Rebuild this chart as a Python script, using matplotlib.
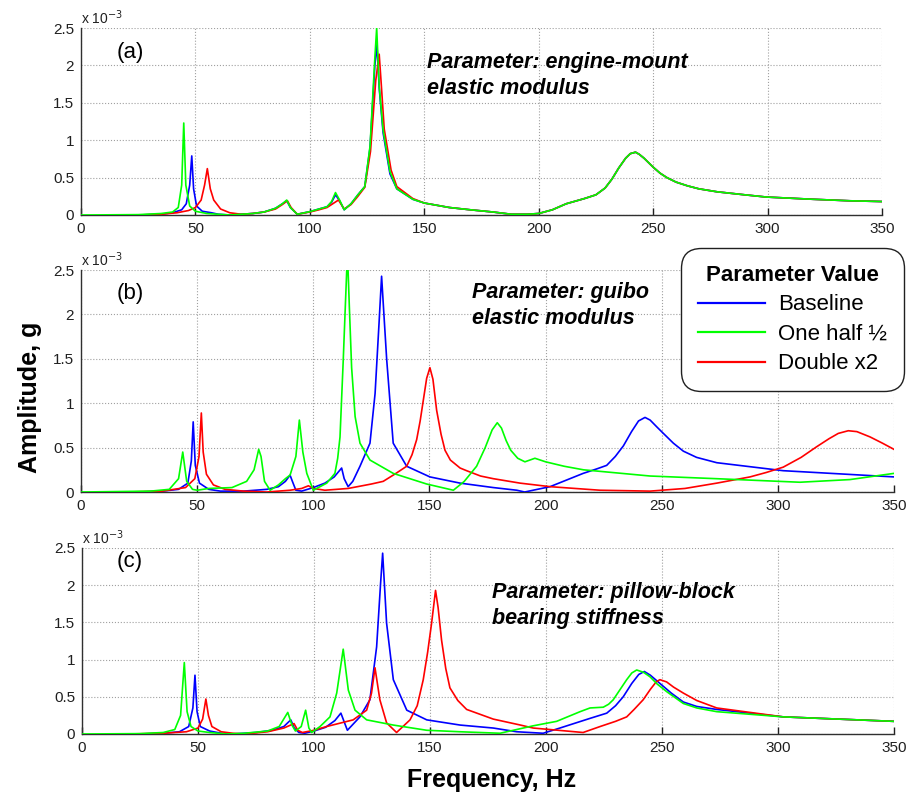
import numpy as np
import matplotlib
matplotlib.use("Agg")
import matplotlib.pyplot as plt
from matplotlib.lines import Line2D

plt.rcParams['font.family'] = ['Liberation Sans', 'DejaVu Sans']

# amplitudes are in units of 1e-3 g
# ---- (a) engine-mount elastic modulus ----
a_base_f = [25, 35, 40, 44, 46, 47.5, 48.4, 49.2, 50.5, 53, 57, 60, 65, 75, 80, 85, 88, 89.9, 91.5, 94.5,
            100, 104, 107.5, 109.5, 111.2, 113, 115, 118, 121, 124, 126.3, 128.4, 129.3, 130.3, 132, 135, 138,
            145, 150, 161, 170, 180, 188, 195, 200, 206, 212, 220, 225, 229, 232, 235, 238, 240, 242.3, 244, 246,
            248, 250, 253, 256, 260, 265, 270, 278, 290, 299.5, 320, 336, 350]
a_base_amp = [0, 0.01, 0.03, 0.07, 0.15, 0.4, 0.79, 0.35, 0.12, 0.05, 0.03, 0.01, 0, 0.02, 0.04, 0.09, 0.15, 0.19, 0.1, 0.01,
              0.045, 0.08, 0.11, 0.17, 0.27, 0.19, 0.07, 0.15, 0.27, 0.38, 0.9, 2.0, 2.28, 1.7, 1.1, 0.55, 0.35,
              0.21, 0.16, 0.1, 0.07, 0.04, 0.01, 0.01, 0.02, 0.07, 0.15, 0.22, 0.27, 0.36, 0.48, 0.63, 0.76, 0.82, 0.84, 0.81, 0.76,
              0.7, 0.64, 0.56, 0.5, 0.44, 0.39, 0.35, 0.31, 0.27, 0.24, 0.21, 0.19, 0.18]
a_half_f = [0, 25, 35, 40, 42.5, 44, 44.9, 45.8, 47.5, 50, 55, 60, 65, 75, 80, 85, 88, 89.9, 91.5, 94.5,
            100, 104, 107.5, 109.5, 111.2, 113, 115, 118, 121, 124, 126.3, 128.4, 129.2, 130.3, 132, 135, 138,
            145, 150, 161, 170, 180, 188, 195, 200, 206, 212, 220, 225, 229, 232, 235, 238, 240, 242.3, 244, 246,
            248, 250, 253, 256, 260, 265, 270, 278, 290, 299.5, 320, 336, 350]
a_half_amp = [0, 0.005, 0.02, 0.04, 0.1, 0.4, 1.23, 0.4, 0.12, 0.05, 0.02, 0.01, 0, 0.02, 0.04, 0.09, 0.15, 0.2, 0.1, 0.01,
              0.045, 0.08, 0.11, 0.18, 0.3, 0.2, 0.07, 0.15, 0.27, 0.38, 0.92, 2.1, 2.5, 1.72, 1.14, 0.58, 0.35,
              0.21, 0.16, 0.1, 0.07, 0.04, 0.01, 0.01, 0.02, 0.07, 0.15, 0.22, 0.27, 0.36, 0.48, 0.63, 0.76, 0.82, 0.84, 0.81, 0.76,
              0.7, 0.64, 0.56, 0.5, 0.44, 0.39, 0.35, 0.31, 0.27, 0.24, 0.21, 0.19, 0.18]
a_double_f = [25, 35, 42, 47, 50, 52.5, 54, 55.2, 56.5, 58, 61, 65, 70, 75, 80, 85, 88, 90.2, 91.8, 94.5,
              100, 104, 107.5, 110, 112.5, 115, 118, 121, 124, 126.5, 128.8, 130.3, 131.2, 132.5, 135.5, 138,
              145, 150, 161, 170, 180, 188, 195, 200, 206, 212, 220, 225, 229, 232, 235, 238, 240, 242.3, 244, 246,
              248, 250, 253, 256, 260, 265, 270, 278, 290, 299.5, 320, 336, 350]
a_double_amp = [0, 0.01, 0.03, 0.06, 0.1, 0.2, 0.4, 0.62, 0.35, 0.2, 0.08, 0.03, 0.01, 0.02, 0.04, 0.08, 0.14, 0.19, 0.1, 0.01,
                0.04, 0.07, 0.1, 0.15, 0.2, 0.08, 0.14, 0.25, 0.37, 0.85, 1.8, 2.15, 1.75, 1.15, 0.6, 0.38,
                0.22, 0.16, 0.1, 0.07, 0.04, 0.01, 0.01, 0.02, 0.07, 0.15, 0.22, 0.27, 0.36, 0.48, 0.63, 0.76, 0.82, 0.84, 0.81, 0.76,
                0.7, 0.64, 0.56, 0.5, 0.44, 0.39, 0.35, 0.31, 0.27, 0.24, 0.21, 0.19, 0.18]

# ---- (b) guibo elastic modulus ----
b_base_f = [25, 35, 42, 46, 47.5, 48.3, 49.2, 51, 55, 60, 70, 80, 85, 88, 90, 91, 92.5, 95, 100, 105, 109, 112.2,
            113.3, 115, 117, 120.1, 124.4, 126.6, 128.3, 129.4, 130.4, 131.6, 134.4, 140.2, 150.2, 163.2, 177.5,
            187.6, 191, 201.9, 216.2, 222, 226.3, 230, 233.5, 237, 240, 242.8, 245, 248, 250.7, 255, 259.3, 265,
            273.7, 302.3, 350]
b_base_amp = [0, 0.01, 0.03, 0.1, 0.35, 0.79, 0.3, 0.1, 0.03, 0.01, 0.01, 0.03, 0.06, 0.12, 0.19, 0.12, 0.02, 0.01, 0.05, 0.1, 0.17, 0.27,
              0.15, 0.06, 0.12, 0.29, 0.55, 1.11, 1.9, 2.43, 2.0, 1.49, 0.55, 0.29, 0.17, 0.1, 0.05,
              0.02, 0.0, 0.06, 0.21, 0.26, 0.3, 0.4, 0.52, 0.68, 0.8, 0.84, 0.81, 0.73, 0.66, 0.55, 0.46, 0.39,
              0.33, 0.24, 0.17]
b_half_f = [0, 30, 38, 42, 43.8, 45.5, 48, 50, 55, 65, 71.3, 74.5, 76.5, 77.5, 79, 81.4, 85, 88, 90, 92.5, 94, 95.5,
            97.2, 100, 105.8, 109.3, 110.5, 111.5, 112.9, 113.8, 114.7, 115.5, 116.5, 118, 120.1, 124.4, 134.4,
            148.8, 160.3, 165, 170.3, 174, 177, 179.2, 181, 183, 185, 188, 191.1, 195.4, 200, 208, 216.3, 245,
            273.6, 309.5, 331, 350]
b_half_amp = [0, 0.01, 0.03, 0.15, 0.45, 0.12, 0.03, 0.02, 0.04, 0.05, 0.12, 0.25, 0.48, 0.4, 0.12, 0.02, 0.08, 0.15, 0.19, 0.4, 0.81, 0.45,
              0.21, 0.02, 0.1, 0.21, 0.38, 0.62, 1.49, 2.1, 2.7, 2.1, 1.4, 0.85, 0.55, 0.36, 0.21,
              0.09, 0.02, 0.12, 0.29, 0.5, 0.7, 0.78, 0.72, 0.58, 0.47, 0.38, 0.34, 0.38, 0.34, 0.29, 0.25, 0.18,
              0.15, 0.11, 0.14, 0.21]
b_double_f = [20, 35, 45, 49, 50.8, 51.8, 52.6, 54, 57, 62, 70, 80, 90, 95, 97.9, 100, 105, 115, 125, 130.1, 135,
              140.2, 142.5, 144.5, 146, 147.4, 148.8, 150.2, 151.5, 153.1, 155, 156.7, 159, 163.2, 166, 172, 177.5,
              189, 202, 223.4, 245, 260, 273.7, 288, 295, 302.3, 310, 316.7, 322, 326, 330.3, 334, 339.7, 345, 350]
b_double_amp = [0, 0.01, 0.05, 0.15, 0.4, 0.89, 0.45, 0.2, 0.08, 0.03, 0.01, 0.0, 0.02, 0.04, 0.07, 0.04, 0.02, 0.04, 0.09, 0.12, 0.2,
                0.29, 0.42, 0.59, 0.8, 1.04, 1.28, 1.4, 1.27, 0.92, 0.65, 0.47, 0.36, 0.27, 0.24, 0.18, 0.15,
                0.1, 0.06, 0.02, 0.01, 0.04, 0.1, 0.17, 0.22, 0.28, 0.39, 0.51, 0.6, 0.66, 0.69, 0.68, 0.62, 0.55, 0.48]

# ---- (c) pillow-block bearing stiffness ----
c_base_f = [25, 35, 42, 46, 47.8, 48.7, 49.6, 51, 55, 60, 65, 75, 82, 87, 90, 91.5, 93.5, 96, 100, 105, 109, 111.6,
            114.4, 119.8, 124.1, 127, 128.7, 129.6, 131.3, 134.2, 140, 148.6, 163, 177.3, 187.4, 198.8, 206, 219,
            226.2, 230, 233.3, 237, 240, 242.4, 245, 249.1, 254, 259.2, 265, 273.6, 302.3, 350]
c_base_amp = [0, 0.01, 0.03, 0.1, 0.35, 0.79, 0.3, 0.1, 0.04, 0.01, 0.0, 0.02, 0.05, 0.1, 0.19, 0.08, 0.02, 0.01, 0.04, 0.09, 0.18, 0.28,
              0.05, 0.23, 0.46, 1.17, 2.02, 2.43, 1.49, 0.73, 0.32, 0.19, 0.12, 0.08, 0.03, 0.01, 0.08, 0.21,
              0.28, 0.38, 0.5, 0.68, 0.8, 0.84, 0.79, 0.68, 0.55, 0.43, 0.37, 0.33, 0.23, 0.17]
c_half_f = [0, 25, 35, 40, 42.5, 44.1, 45.3, 47, 50, 55, 62, 70, 80, 85, 88.7, 90.5, 92, 94.5, 96.4, 97.8, 99,
            102.6, 106.9, 109.8, 112.6, 114.8, 117.7, 122.7, 134.2, 148.6, 163, 180.2, 194.5, 204.6, 214.7, 219,
            224.7, 227, 229, 232, 234.8, 237, 239.1, 242, 244.8, 248, 252, 259.2, 265, 273.6, 302.3, 350]
c_half_amp = [0, 0.005, 0.02, 0.06, 0.25, 0.96, 0.3, 0.1, 0.04, 0.02, 0.0, 0.01, 0.04, 0.1, 0.29, 0.12, 0.04, 0.1, 0.32, 0.08, 0.02,
              0.1, 0.23, 0.55, 1.14, 0.59, 0.32, 0.19, 0.12, 0.05, 0.03, 0.01, 0.11, 0.17, 0.3, 0.35,
              0.36, 0.4, 0.46, 0.6, 0.73, 0.82, 0.86, 0.83, 0.77, 0.67, 0.57, 0.41, 0.35, 0.3, 0.23, 0.17]
c_double_f = [20, 35, 45, 50, 52, 53.4, 54.5, 56, 60, 65, 70, 80, 87, 91.4, 93, 95, 100, 105.4, 116.9, 122.7, 124.8,
              126.3, 128.4, 131.3, 135.6, 141.4, 144.5, 147.1, 149, 150.7, 152.4, 153.5, 155, 156.8, 158.6, 162,
              165.8, 177.3, 189, 194.5, 216, 223.3, 230, 234.8, 238, 241.9, 245, 247.5, 249.1, 252, 255, 259.2,
              265, 273.6, 302.3, 350]
c_double_amp = [0, 0.01, 0.03, 0.08, 0.2, 0.47, 0.25, 0.1, 0.03, 0.01, 0.0, 0.03, 0.08, 0.14, 0.05, 0.02, 0.05, 0.1, 0.19, 0.32, 0.55,
                0.89, 0.46, 0.15, 0.02, 0.19, 0.38, 0.73, 1.1, 1.49, 1.93, 1.7, 1.26, 0.88, 0.62, 0.45,
                0.33, 0.2, 0.12, 0.08, 0.02, 0.1, 0.17, 0.23, 0.33, 0.46, 0.6, 0.7, 0.73, 0.7, 0.63, 0.55,
                0.45, 0.35, 0.23, 0.17]

panels = [
    ("(a)", "Parameter: engine-mount\nelastic modulus",
     (a_base_f, a_base_amp), (a_half_f, a_half_amp), (a_double_f, a_double_amp)),
    ("(b)", "Parameter: guibo\nelastic modulus",
     (b_base_f, b_base_amp), (b_half_f, b_half_amp), (b_double_f, b_double_amp)),
    ("(c)", "Parameter: pillow-block\nbearing stiffness",
     (c_base_f, c_base_amp), (c_half_f, c_half_amp), (c_double_f, c_double_amp)),
]

series_names = ["Baseline", "One half \u00bd", "Double x2"]
series_colors = ["#0000ff", "#00ff00", "#ff0000"]

# axes rectangles [left, bottom, width, height] in figure fraction
rects = [
    [0.0894, 0.7299, 0.8841, 0.2349],
    [0.0894, 0.3819, 0.8974, 0.2789],
    [0.0905, 0.0779, 0.8962, 0.2337],
]
letter_pos = [(0.045, 0.87), (0.044, 0.896), (0.043, 0.925)]
param_pos = [(0.432, 0.87), (0.481, 0.945), (0.505, 0.816)]

fig = plt.figure(figsize=(9.06, 7.96), dpi=100)

for i, (letter, ptext, base, half, double) in enumerate(panels):
    ax = fig.add_axes(rects[i])
    # draw green last so it sits on top where curves overlap
    ax.plot(base[0], base[1], color=series_colors[0], lw=1.2, zorder=3)
    ax.plot(double[0], double[1], color=series_colors[2], lw=1.2, zorder=3)
    ax.plot(half[0], half[1], color=series_colors[1], lw=1.2, zorder=4)

    ax.set_xlim(0, 350)
    ax.set_ylim(0, 2.5)
    ax.set_xticks(np.arange(0, 351, 50))
    ax.set_yticks([0, 0.5, 1, 1.5, 2, 2.5])
    ax.set_yticklabels(["0", "0.5", "1", "1.5", "2", "2.5"])
    ax.grid(True, linestyle=':', color='#a0a0a0', lw=0.8)
    for s in ["top", "right"]:
        ax.spines[s].set_visible(False)
    for s in ["left", "bottom"]:
        ax.spines[s].set_color("#303030")
        ax.spines[s].set_linewidth(1.0)
    ax.tick_params(direction='in', length=5, width=1, labelsize=11, colors='#202020', pad=5)
    ax.tick_params(axis='y', length=0)

    ax.text(0.0, 1.005, "x 10$^{-3}$", transform=ax.transAxes, ha='left', va='bottom', fontsize=10, color='#202020')
    ax.text(letter_pos[i][0], letter_pos[i][1], letter, transform=ax.transAxes,
            ha='left', va='center', fontsize=16)
    ax.text(param_pos[i][0], param_pos[i][1], ptext, transform=ax.transAxes,
            ha='left', va='top', fontsize=15.5, fontweight='bold', fontstyle='italic', linespacing=1.3)

handles = [Line2D([], [], color=c, lw=1.6) for c in series_colors]
leg = fig.legend(handles, series_names, title="Parameter Value", loc='upper left',
                 bbox_to_anchor=(0.752, 0.688), fontsize=16, title_fontproperties={'weight': 'bold', 'size': 16},
                 handlelength=3.0, frameon=True, fancybox=True, framealpha=1, edgecolor='#202020',
                 borderpad=0.75, labelspacing=0.38, handletextpad=0.6, borderaxespad=0)
leg.get_frame().set_linewidth(1.0)
leg.get_frame().set_boxstyle('round', pad=0, rounding_size=0.9)

fig.text(30 / 906, 1 - 397 / 796, "Amplitude, g", rotation=90, ha='center', va='center',
         fontsize=18, fontweight='bold')
fig.text(492 / 906, 1 - 780 / 796, "Frequency, Hz", ha='center', va='center',
         fontsize=18, fontweight='bold')

fig.savefig("out.png", dpi=100)
